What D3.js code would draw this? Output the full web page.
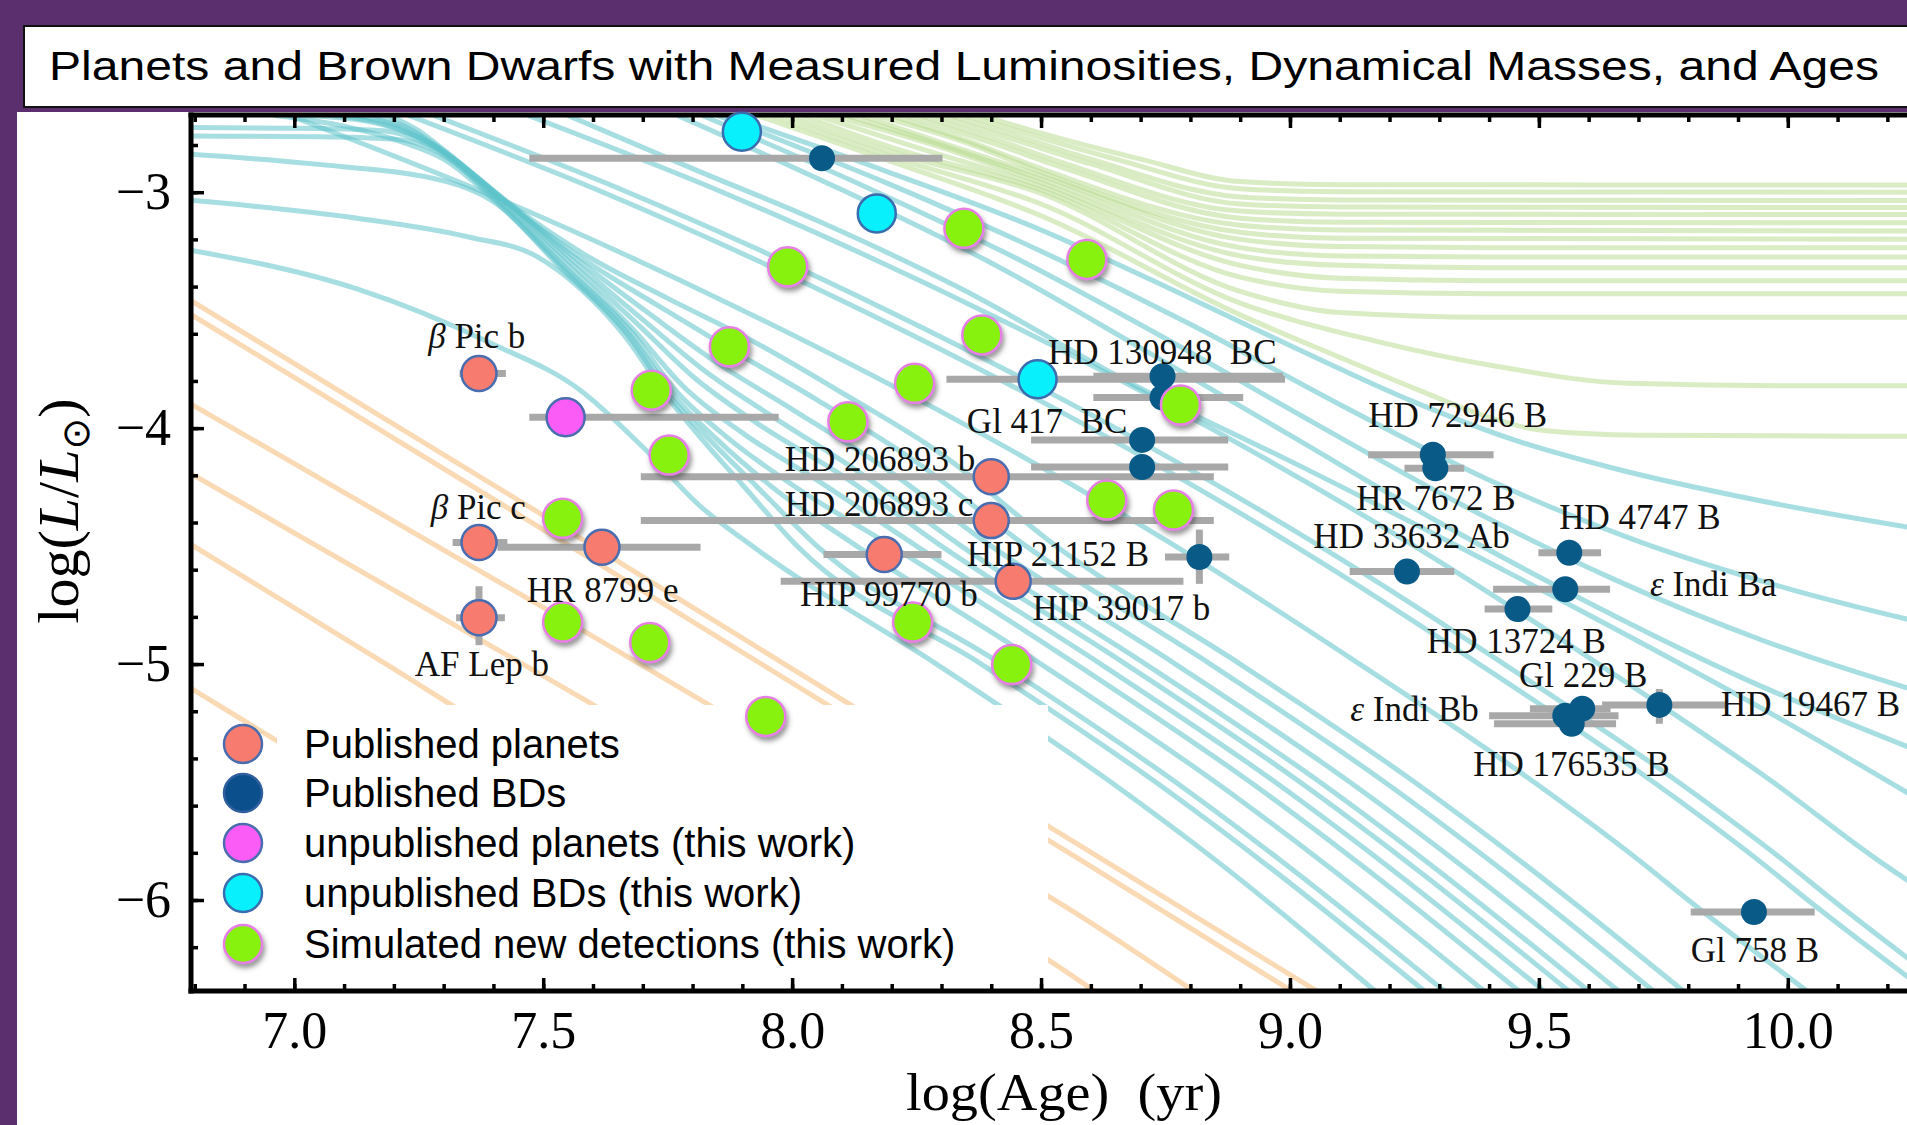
<!DOCTYPE html>
<html><head><meta charset="utf-8">
<script src="https://cdn.jsdelivr.net/npm/d3@7"></script>
<style>
html,body{margin:0;padding:0;background:#5b2f6e;}
svg{display:block;}
text{white-space:pre;}
</style></head><body>
<svg id="c" width="1907" height="1125"></svg>
<script>
// ---------------- DATA ----------------
const title = "Planets and Brown Dwarfs with Measured Luminosities, Dynamical Masses, and Ages";
const xTickValues = [7.0, 7.5, 8.0, 8.5, 9.0, 9.5, 10.0];
const xTickLabels = ["7.0", "7.5", "8.0", "8.5", "9.0", "9.5", "10.0"];
const yTickValues = [-3, -4, -5, -6];
const yTickLabels = ["\u22123", "\u22124", "\u22125", "\u22126"];

// Published planets: log(age), log(L), age error range
const publishedPlanets = [
  {name:"β Pic b",     x:7.371, y:-3.768, xlo:7.332, xhi:7.425},
  {name:"β Pic c",     x:7.371, y:-4.485, xlo:7.318, xhi:7.428},
  {name:"HR 8799 e",   x:7.618, y:-4.505, xlo:7.408, xhi:7.816},
  {name:"AF Lep b",    x:7.371, y:-4.804, xlo:7.325, xhi:7.423, ylo:-4.92, yhi:-4.67},
  {name:"HD 206893 b", x:8.400, y:-4.206, xlo:7.696, xhi:8.847},
  {name:"HD 206893 c", x:8.400, y:-4.392, xlo:7.696, xhi:8.847},
  {name:"HIP 99770 b", x:8.185, y:-4.536, xlo:8.063, xhi:8.300},
  {name:"HIP 39017 b", x:8.444, y:-4.649, xlo:7.977, xhi:8.786}
];
// Published brown dwarfs
const publishedBDs = [
  {name:"",            x:8.060, y:-2.856, xlo:7.472, xhi:8.302},
  {name:"HD 130948 B", x:8.744, y:-3.780, xlo:8.605, xhi:8.986},
  {name:"HD 130948 C", x:8.744, y:-3.870, xlo:8.605, xhi:8.906},
  {name:"Gl 417 B",    x:8.703, y:-4.050, xlo:8.480, xhi:8.876},
  {name:"Gl 417 C",    x:8.703, y:-4.165, xlo:8.480, xhi:8.876},
  {name:"HIP 21152 B", x:8.818, y:-4.546, xlo:8.749, xhi:8.878, ylo:-4.66, yhi:-4.43},
  {name:"HD 72946 B",  x:9.287, y:-4.113, xlo:9.157, xhi:9.409},
  {name:"HR 7672 B",   x:9.292, y:-4.170, xlo:9.230, xhi:9.350},
  {name:"HD 33632 Ab", x:9.235, y:-4.608, xlo:9.120, xhi:9.330},
  {name:"HD 4747 B",   x:9.561, y:-4.528, xlo:9.499, xhi:9.625},
  {name:"ε Indi Ba",   x:9.553, y:-4.683, xlo:9.408, xhi:9.643},
  {name:"HD 13724 B",  x:9.457, y:-4.767, xlo:9.391, xhi:9.527},
  {name:"Gl 229 B",    x:9.587, y:-5.189, xlo:9.482, xhi:9.644},
  {name:"ε Indi Bb",   x:9.553, y:-5.219, xlo:9.400, xhi:9.660},
  {name:"HD 176535 B", x:9.566, y:-5.253, xlo:9.410, xhi:9.655},
  {name:"HD 19467 B",  x:9.742, y:-5.173, xlo:9.627, xhi:9.875, ylo:-5.253, yhi:-5.106},
  {name:"Gl 758 B",    x:9.932, y:-6.051, xlo:9.805, xhi:10.054}
];
const unpublishedPlanets = [
  {x:7.545, y:-3.954, xlo:7.472, xhi:7.973}
];
const unpublishedBDs = [
  {x:7.899, y:-2.744},
  {x:8.170, y:-3.090},
  {x:8.493, y:-3.793, xlo:8.310, xhi:8.990}
];
const simulatedDetections = [
  [8.345,-3.153],[8.592,-3.285],[7.991,-3.316],[8.381,-3.605],[7.874,-3.655],
  [8.246,-3.810],[7.717,-3.839],[8.112,-3.973],[8.780,-3.902],[7.753,-4.114],
  [8.632,-4.305],[8.766,-4.347],[7.539,-4.382],[7.539,-4.822],[7.714,-4.909],
  [8.242,-4.822],[8.441,-5.002],[7.947,-5.222]
];

// Label anchors (data coordinates of text start / baseline)
const labels = [
  {t:"β Pic b", x:7.269, y:-3.660}, {t:"β Pic c", x:7.274, y:-4.385},
  {t:"HR 8799 e", x:7.467, y:-4.736}, {t:"AF Lep b", x:7.242, y:-5.050},
  {t:"HD 130948  BC", x:8.514, y:-3.728}, {t:"Gl 417  BC", x:8.351, y:-4.020},
  {t:"HD 206893 b", x:7.985, y:-4.181}, {t:"HD 206893 c", x:7.985, y:-4.372},
  {t:"HIP 21152 B", x:8.351, y:-4.584}, {t:"HIP 99770 b", x:8.016, y:-4.753},
  {t:"HIP 39017 b", x:8.483, y:-4.813}, {t:"HD 72946 B", x:9.157, y:-3.995},
  {t:"HR 7672 B", x:9.133, y:-4.347}, {t:"HD 33632 Ab", x:9.047, y:-4.508},
  {t:"HD 4747 B", x:9.541, y:-4.427}, {t:"ε Indi Ba", x:9.723, y:-4.711},
  {t:"HD 13724 B", x:9.275, y:-4.953}, {t:"Gl 229 B", x:9.460, y:-5.098},
  {t:"ε Indi Bb", x:9.121, y:-5.242}, {t:"HD 19467 B", x:9.866, y:-5.219},
  {t:"HD 176535 B", x:9.368, y:-5.474}, {t:"Gl 758 B", x:9.805, y:-6.262}
];

// Evolutionary tracks: [log(age), log(L)]
const planetTracks = [
  [[6.79,-3.456],[7.5,-4.37],[8.2,-5.28],[8.625,-5.83],[9.08,-6.42]],
  [[6.79,-3.515],[7.5,-4.43],[8.2,-5.34],[8.579,-5.83],[9.03,-6.42]],
  [[6.79,-3.895],[7.5,-4.76],[8.2,-5.62],[8.516,-5.986],[8.83,-6.42]],
  [[6.79,-4.19],[7.5,-5.05],[8.2,-5.90],[8.516,-6.256],[8.63,-6.42]],
  [[6.79,-4.49],[7.2,-5.02],[7.6,-5.55]],
  [[6.79,-5.10],[7.0,-5.37],[7.3,-5.76]]
];
const bdTracks = [
  [[6.79,-3.245],[7.126,-3.41],[7.395,-3.64],[7.575,-3.84],[7.70,-4.08],[7.815,-4.33],[7.92,-4.5],[8.29,-5.0],[8.64,-5.5],[8.85,-5.83],[9.19,-6.42]],
  [[6.79,-3.034],[7.126,-3.11],[7.35,-3.19],[7.485,-3.27],[7.575,-3.41],[7.664,-3.61],[7.75,-3.87],[7.82,-4.05],[7.90,-4.24],[8.01,-4.5],[8.38,-5.0],[8.73,-5.5],[8.94,-5.83],[9.29,-6.42]],
  [[6.79,-2.839],[7.037,-2.88],[7.306,-2.955],[7.40,-3.04],[7.535,-3.32],[7.668,-3.60],[7.76,-3.88],[7.83,-4.04],[7.93,-4.25],[8.05,-4.5],[8.42,-5.0],[8.77,-5.5],[8.98,-5.83],[9.33,-6.42]],
  [[6.96,-2.675],[7.10,-2.72],[7.22,-2.79],[7.30,-2.86],[7.40,-3.03],[7.54,-3.32],[7.672,-3.60],[7.765,-3.87],[7.85,-4.05],[7.96,-4.25],[8.13,-4.5],[8.50,-5.0],[8.85,-5.5],[9.06,-5.83],[9.41,-6.42]],
  [[6.79,-2.762],[7.05,-2.765],[7.20,-2.775],[7.28,-2.82],[7.405,-3.03],[7.545,-3.32],[7.676,-3.59],[7.77,-3.85],[7.87,-4.04],[8.0,-4.24],[8.20,-4.5],[8.57,-5.0],[8.92,-5.5],[9.13,-5.83],[9.48,-6.42]],
  [[6.79,-2.726],[7.05,-2.73],[7.18,-2.74],[7.27,-2.80],[7.41,-3.03],[7.55,-3.31],[7.68,-3.58],[7.78,-3.82],[7.90,-4.02],[8.05,-4.22],[8.25,-4.5],[8.62,-5.0],[8.97,-5.5],[9.18,-5.83],[9.53,-6.42]],
  [[7.02,-2.675],[7.15,-2.70],[7.265,-2.785],[7.415,-3.03],[7.555,-3.30],[7.69,-3.56],[7.80,-3.78],[7.93,-3.98],[8.10,-4.20],[8.30,-4.5],[8.67,-5.0],[9.02,-5.5],[9.23,-5.83],[9.58,-6.42]],
  [[7.08,-2.675],[7.18,-2.71],[7.27,-2.79],[7.42,-3.03],[7.56,-3.29],[7.70,-3.54],[7.82,-3.75],[7.96,-3.95],[8.13,-4.18],[8.34,-4.5],[8.71,-5.0],[9.06,-5.5],[9.27,-5.83],[9.62,-6.42]],
  [[7.12,-2.675],[7.21,-2.72],[7.28,-2.80],[7.425,-3.04],[7.565,-3.28],[7.71,-3.51],[7.84,-3.71],[8.0,-3.92],[8.18,-4.16],[8.40,-4.5],[8.77,-5.0],[9.12,-5.5],[9.33,-5.83],[9.68,-6.42]],
  [[7.16,-2.675],[7.23,-2.73],[7.29,-2.81],[7.43,-3.05],[7.57,-3.27],[7.73,-3.48],[7.88,-3.67],[8.05,-3.88],[8.24,-4.13],[8.47,-4.5],[8.84,-5.0],[9.19,-5.5],[9.40,-5.83],[9.75,-6.42]],
  [[7.19,-2.675],[7.25,-2.74],[7.30,-2.82],[7.44,-3.06],[7.58,-3.26],[7.75,-3.45],[7.92,-3.63],[8.10,-3.85],[8.30,-4.11],[8.53,-4.5],[8.90,-5.0],[9.25,-5.5],[9.46,-5.83],[9.81,-6.42]],
  [[6.99,-2.675],[7.38,-3.0],[7.90,-3.5],[8.36,-4.0],[8.77,-4.5],[9.14,-5.0],[9.49,-5.5],[9.70,-5.83],[9.80,-6.0],[10.06,-6.42]],
  [[7.23,-2.675],[7.62,-3.0],[8.14,-3.5],[8.60,-4.0],[9.01,-4.5],[9.38,-5.0],[9.73,-5.5],[9.94,-5.83],[10.04,-6.0],[10.30,-6.42]],
  [[7.28,-2.675],[7.67,-3.0],[8.19,-3.5],[8.65,-4.0],[9.06,-4.5],[9.43,-5.0],[9.78,-5.5],[9.99,-5.83],[10.09,-6.0],[10.35,-6.42]],
  [[7.47,-2.675],[7.86,-3.0],[8.38,-3.5],[8.84,-4.0],[9.25,-4.5],[9.62,-5.0],[9.97,-5.5],[10.18,-5.83],[10.30,-6.0]],
  [[7.55,-2.675],[7.80,-2.90],[8.05,-3.12],[8.331,-3.40],[8.69,-3.82],[9.02,-4.16],[9.5,-4.68],[10.0,-5.25],[10.3,-5.62]],
  [[7.77,-2.675],[8.1,-2.99],[8.4,-3.30],[8.7,-3.66],[9.0,-4.03],[9.3,-4.40],[9.6,-4.74],[9.9,-5.05],[10.3,-5.40]],
  [[7.82,-2.675],[8.15,-2.98],[8.45,-3.28],[8.75,-3.62],[9.05,-3.98],[9.35,-4.33],[9.65,-4.64],[9.95,-4.90],[10.3,-5.14]],
  [[7.85,-2.675],[8.2,-2.97],[8.5,-3.25],[8.8,-3.56],[9.1,-3.90],[9.4,-4.22],[9.7,-4.48],[10.0,-4.68],[10.3,-4.84]],
  [[7.87,-2.675],[8.2,-2.92],[8.5,-3.16],[8.75,-3.40],[9.0,-3.65],[9.25,-3.89],[9.45,-4.05],[9.65,-4.17],[9.95,-4.31],[10.3,-4.44]]
];
const starTracks = [
  [[8.38,-2.675],[8.5,-2.75],[8.7,-2.86],[8.9,-2.955],[9.1,-2.968],[10.3,-2.97]],
  [[8.35,-2.675],[8.5,-2.77],[8.65,-2.86],[8.9,-2.985],[9.1,-2.998],[10.3,-3.0]],
  [[8.32,-2.675],[8.45,-2.76],[8.6,-2.86],[8.9,-3.02],[9.1,-3.033],[10.3,-3.035]],
  [[8.29,-2.675],[8.45,-2.78],[8.6,-2.88],[8.9,-3.05],[9.1,-3.063],[10.3,-3.065]],
  [[8.26,-2.675],[8.4,-2.77],[8.55,-2.88],[8.9,-3.08],[9.1,-3.093],[10.3,-3.095]],
  [[8.23,-2.675],[8.4,-2.79],[8.55,-2.90],[8.9,-3.11],[9.1,-3.127],[10.3,-3.13]],
  [[8.20,-2.675],[8.35,-2.78],[8.5,-2.90],[8.9,-3.14],[9.1,-3.16],[10.3,-3.165]],
  [[8.17,-2.675],[8.35,-2.79],[8.5,-2.915],[8.9,-3.17],[9.1,-3.195],[10.3,-3.20]],
  [[8.14,-2.675],[8.3,-2.79],[8.5,-2.93],[8.9,-3.20],[9.1,-3.23],[9.4,-3.235],[10.3,-3.235]],
  [[8.11,-2.675],[8.3,-2.80],[8.5,-2.945],[8.9,-3.235],[9.1,-3.27],[9.4,-3.275],[10.3,-3.275]],
  [[8.08,-2.675],[8.3,-2.81],[8.5,-2.96],[8.9,-3.27],[9.1,-3.31],[9.4,-3.32],[10.3,-3.32]],
  [[8.05,-2.675],[8.25,-2.81],[8.5,-2.975],[8.9,-3.31],[9.1,-3.365],[9.4,-3.375],[10.3,-3.375]],
  [[8.02,-2.675],[8.2,-2.81],[8.5,-2.99],[8.9,-3.36],[9.1,-3.42],[9.4,-3.43],[10.3,-3.43]],
  [[7.99,-2.675],[8.2,-2.83],[8.5,-3.005],[8.9,-3.42],[9.1,-3.51],[9.4,-3.53],[10.3,-3.53]],
  [[7.96,-2.675],[8.2,-2.85],[8.5,-3.05],[8.9,-3.47],[9.17,-3.63],[9.42,-3.74],[9.68,-3.81],[10.0,-3.82],[10.3,-3.82]],
  [[7.93,-2.675],[8.2,-2.87],[8.5,-3.10],[8.9,-3.52],[9.1,-3.70],[9.26,-3.84],[9.38,-3.94],[9.51,-4.01],[9.7,-4.03],[10.3,-4.035]]
];

const legendItems = [
  {t:"Published planets", k:"pp"},
  {t:"Published BDs", k:"pb"},
  {t:"unpublished planets (this work)", k:"up"},
  {t:"unpublished BDs (this work)", k:"ub"},
  {t:"Simulated new detections (this work)", k:"sim"}
];

// ---------------- DRAWING ----------------
const W = 1907, H = 1125;
const L = 191, T = 115, R = 1907, B = 991;
const svg = d3.select("#c");
const serif = "'Liberation Serif', 'Times New Roman', serif";
const sans = "'Liberation Sans', Arial, Helvetica, sans-serif";

const defs = svg.append("defs");
defs.append("clipPath").attr("id","plotclip").append("rect")
  .attr("x",L).attr("y",T).attr("width",R-L).attr("height",B-T);
const f = defs.append("filter").attr("id","shadow").attr("x","-50%").attr("y","-50%").attr("width","200%").attr("height","200%");
f.append("feDropShadow").attr("dx",2).attr("dy",4).attr("stdDeviation",2.5)
  .attr("flood-color","#444").attr("flood-opacity",0.55);

const styles = {
  pp:  {fill:"#f77b6e", stroke:"#4a6db0", sw:2.5, r:17.5},
  pb:  {fill:"#0a5a88", stroke:"none",    sw:0,   r:13},
  up:  {fill:"#fb5cf6", stroke:"#4a6db0", sw:2.5, r:19},
  ub:  {fill:"#08f0fb", stroke:"#3a6db0", sw:2.5, r:19},
  sim: {fill:"#86f20c", stroke:"#e67ee6", sw:2.5, r:19.5}
};

svg.append("rect").attr("width",W).attr("height",H).attr("fill","#5b2f6e");
svg.append("rect").attr("x",17).attr("y",112).attr("width",W-17).attr("height",H-112).attr("fill","#ffffff");
svg.append("rect").attr("x",24).attr("y",26).attr("width",W).attr("height",81)
  .attr("fill","#ffffff").attr("stroke","#111").attr("stroke-width",2);
svg.append("text").attr("x",49).attr("y",80)
  .attr("font-family",sans).attr("font-size",40)
  .attr("textLength",1830).attr("lengthAdjust","spacingAndGlyphs")
  .attr("fill","#000").text(title);

const x = d3.scaleLinear().domain([7,10]).range([294.3,1787.8]);
const y = d3.scaleLinear().domain([-3,-6]).range([192.2,900]);
const line = d3.line().x(d=>x(d[0])).y(d=>y(d[1])).curve(d3.curveMonotoneX);

const gl = svg.append("g").attr("clip-path","url(#plotclip)");
gl.selectAll("path.bd").data(bdTracks).join("path").attr("class","bd")
  .attr("d",line).attr("fill","none").attr("stroke","#5cc3cb")
  .attr("stroke-opacity",0.55).attr("stroke-width",5);
gl.selectAll("path.st").data(starTracks).join("path").attr("class","st")
  .attr("d",line).attr("fill","none").attr("stroke","#b5d98a")
  .attr("stroke-opacity",0.5).attr("stroke-width",5);
gl.selectAll("path.pl").data(planetTracks).join("path").attr("class","pl")
  .attr("d",line).attr("fill","none").attr("stroke","#f5b56a")
  .attr("stroke-opacity",0.5).attr("stroke-width",5);

// legend backdrop
svg.append("rect").attr("x",277).attr("y",705).attr("width",771).attr("height",283).attr("fill","#ffffff");

// axes
function styleAxis(g){
  g.select(".domain").remove();
  g.selectAll(".tick line").attr("stroke","#000").attr("stroke-width",3.5);
  g.selectAll(".tick text").attr("font-family",serif).attr("font-size",52).attr("fill","#000");
}
const xMinor = d3.range(68,103).map(i=>i/10);
const yMinor = d3.range(-31,-13).map(i=>i/5);
const fmtX = d => { const i = xTickValues.indexOf(d); return i>=0 ? xTickLabels[i] : ""; };
const fmtY = d => { const i = yTickValues.indexOf(d); return i>=0 ? yTickLabels[i] : ""; };

svg.append("g").attr("transform",`translate(0,${B})`)
  .call(d3.axisBottom(x).tickValues(xMinor).tickSize(-7).tickFormat("")).call(styleAxis);
svg.append("g").attr("transform",`translate(0,${B})`)
  .call(d3.axisBottom(x).tickValues(xTickValues).tickSize(-13).tickPadding(20).tickFormat(fmtX)).call(styleAxis);
svg.append("g").attr("transform",`translate(0,${T})`)
  .call(d3.axisTop(x).tickValues(xMinor).tickSize(-7).tickFormat("")).call(styleAxis);
svg.append("g").attr("transform",`translate(0,${T})`)
  .call(d3.axisTop(x).tickValues(xTickValues).tickSize(-13).tickFormat("")).call(styleAxis);
svg.append("g").attr("transform",`translate(${L},0)`)
  .call(d3.axisLeft(y).tickValues(yMinor).tickSize(-7).tickFormat("")).call(styleAxis);
svg.append("g").attr("transform",`translate(${L},0)`)
  .call(d3.axisLeft(y).tickValues(yTickValues).tickSize(-13).tickPadding(20).tickFormat(fmtY)).call(styleAxis);

const frame = svg.append("g").attr("stroke","#000").attr("stroke-width",5).attr("stroke-linecap","square");
frame.append("line").attr("x1",L).attr("y1",T).attr("x2",L).attr("y2",B);
frame.append("line").attr("x1",L).attr("y1",B).attr("x2",R).attr("y2",B);
frame.append("line").attr("x1",L).attr("y1",T).attr("x2",R).attr("y2",T);

// axis titles
svg.append("text").attr("x",1064).attr("y",1110).attr("text-anchor","middle")
  .attr("font-family",serif).attr("font-size",52).attr("fill","#000")
  .attr("textLength",316).attr("lengthAdjust","spacingAndGlyphs")
  .text("log(Age)  (yr)");
const yl = svg.append("text").attr("transform","translate(78,511) rotate(-90)")
  .attr("text-anchor","middle").attr("font-family",serif).attr("font-size",58).attr("fill","#000");
yl.append("tspan").text("log(");
yl.append("tspan").attr("font-style","italic").text("L");
yl.append("tspan").text("/");
yl.append("tspan").attr("font-style","italic").text("L");
yl.append("tspan").attr("font-size",38).attr("dy",11).attr("font-family","'DejaVu Sans', sans-serif").text("\u2299");
yl.append("tspan").attr("dy",-11).text(")");

// error bars
const gb = svg.append("g").attr("stroke","#a8a8a8").attr("stroke-width",7);
const allErr = [...publishedPlanets, ...publishedBDs, ...unpublishedPlanets, ...unpublishedBDs];
allErr.filter(d=>d.xlo!==undefined).forEach(d=>{
  gb.append("line").attr("x1",x(d.xlo)).attr("x2",x(d.xhi)).attr("y1",y(d.y)).attr("y2",y(d.y));
});
allErr.filter(d=>d.ylo!==undefined).forEach(d=>{
  gb.append("line").attr("x1",x(d.x)).attr("x2",x(d.x)).attr("y1",y(d.ylo)).attr("y2",y(d.yhi));
});

function dots(data, k, gx, gy){
  const s = styles[k];
  const g = svg.append("g");
  const c = g.selectAll("circle").data(data).join("circle")
    .attr("cx",d=>x(gx(d))).attr("cy",d=>y(gy(d))).attr("r",s.r)
    .attr("fill",s.fill).attr("stroke",s.stroke).attr("stroke-width",s.sw);
  if(k==="sim") c.attr("filter","url(#shadow)");
}
dots(publishedBDs,"pb",d=>d.x,d=>d.y);
dots(publishedPlanets,"pp",d=>d.x,d=>d.y);
dots(unpublishedPlanets,"up",d=>d.x,d=>d.y);
dots(unpublishedBDs,"ub",d=>d.x,d=>d.y);
dots(simulatedDetections,"sim",d=>d[0],d=>d[1]);

// labels
const glab = svg.append("g").attr("font-family",serif).attr("font-size",35).attr("fill","#111");
labels.forEach(d=>{
  const t = glab.append("text").attr("x",x(d.x)).attr("y",y(d.y));
  if(/^[βε]/.test(d.t)){
    t.append("tspan").attr("font-style","italic").text(d.t[0]);
    t.append("tspan").text(d.t.slice(1));
  } else t.text(d.t);
});

// legend
const legY = [744, 793, 843, 893, 944];
const gleg = svg.append("g");
legendItems.forEach((d,i)=>{
  const s = styles[d.k];
  const c = gleg.append("circle").attr("cx",243).attr("cy",legY[i]).attr("r",19)
    .attr("fill", d.k==="pb" ? "#0b4f8c" : s.fill)
    .attr("stroke", d.k==="pb" ? "#2f5f9e" : s.stroke).attr("stroke-width",2.5);
  if(d.k==="sim") c.attr("filter","url(#shadow)");
  gleg.append("text").attr("x",304).attr("y",legY[i]+14)
    .attr("font-family",sans).attr("font-size",40).attr("fill","#000").text(d.t);
});
</script></body></html>
